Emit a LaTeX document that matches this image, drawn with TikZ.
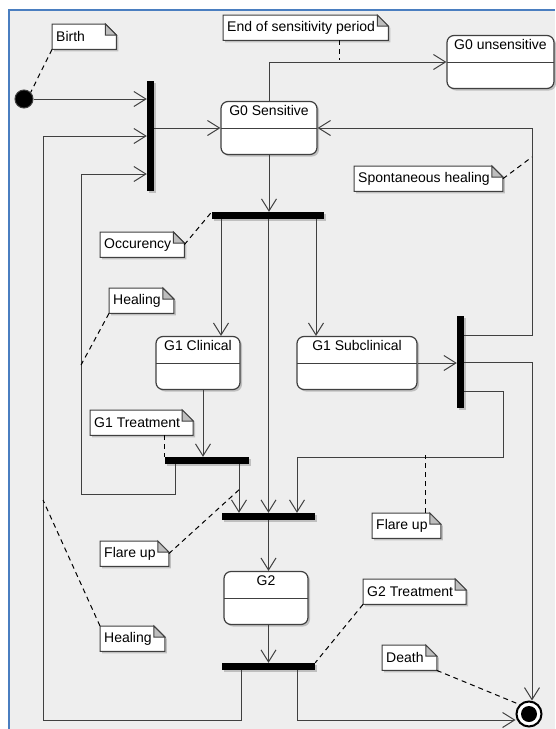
\documentclass[tikz,border=0pt]{standalone}
\usepackage{fontspec}
\setmainfont{Liberation Sans}
\usetikzlibrary{arrows.meta,calc,shadows}
\definecolor{framebg}{RGB}{238,238,238}
\definecolor{frameblue}{RGB}{74,126,192}
\definecolor{linegray}{RGB}{64,64,64}
\definecolor{foldgray}{RGB}{190,190,190}
\newcommand{\diagfont}{\fontsize{14}{16}\selectfont}
\pgfdeclarelayer{frame}
\pgfdeclarelayer{notes}
\pgfsetlayers{frame,notes,main}

\begin{document}
\begin{tikzpicture}[
    x=1pt, y=-1pt,
    statebox/.style={draw=linegray, line width=1.2pt, rounded corners=7pt, fill=white, font=\diagfont,
        text height=10.5pt, text depth=36.5pt, inner ysep=3pt,
        general shadow={shadow xshift=2pt, shadow yshift=-2pt, fill=black!25},
        path picture={\draw[linegray, line width=1pt] (path picture bounding box.west) -- (path picture bounding box.east);}},
    forkbar/.style={fill=black, inner sep=0pt, general shadow={shadow xshift=1.5pt, shadow yshift=-1.5pt, fill=black!25}},
    note/.style={anchor=north west, font=\diagfont, inner xsep=4pt, inner ysep=0pt, minimum height=25pt},
    arrow/.style={draw=linegray, line width=1pt, -{Straight Barb[length=12pt, width=15pt]}},
    noteline/.style={draw=black, line width=1pt, dash pattern=on 5pt off 4pt}
]
\useasboundingbox (0,0) rectangle (555,729);

% ========== FRAME ==========
\begin{pgfonlayer}{frame}
\fill[framebg] (9,10) rectangle (555,729);
\draw[frameblue, line width=2pt] (9,729) -- (9,10) -- (555,10);
\end{pgfonlayer}

% ========== STATES ==========
\node[circle, fill=black, draw=linegray, line width=1pt, minimum size=18pt, inner sep=0pt] (init) at (24,99) {};
\node[statebox, minimum width=96pt] (g0s) at (269,128) {G0 Sensitive};
\node[statebox, minimum width=107pt] (g0u) at (500.5,62) {G0 unsensitive};
\node[statebox, minimum width=84pt] (g1c) at (198,363) {G1 Clinical};
\node[statebox, minimum width=120pt] (g1s) at (357,363) {G1 Subclinical};
\node[statebox, minimum width=84pt] (g2) at (266,598) {G2};
\node[circle, draw=black, line width=2pt, fill=white, minimum size=25pt, inner sep=0pt,
    path picture={\fill[black] (path picture bounding box.center) circle (8pt);}] (final) at (529,714) {};

% ========== FORK / JOIN BARS ==========
\node[forkbar, minimum width=7pt, minimum height=110pt] (bar1) at (150.5,136) {};
\node[forkbar, minimum width=112pt, minimum height=7pt] (bar2) at (268,215.5) {};
\node[forkbar, minimum width=7pt, minimum height=92pt] (bar3) at (460.5,362) {};
\node[forkbar, minimum width=84pt, minimum height=7pt] (bar4) at (207,460.5) {};
\node[forkbar, minimum width=93pt, minimum height=7pt] (bar5) at (268.5,516.5) {};
\node[forkbar, minimum width=93pt, minimum height=7pt] (bar6) at (268.5,666.5) {};

% ========== NOTES ==========
\node[note, text width=47pt] (birth) at (52,24) {Birth};
\node[note] (endsens) at (223,15) {End of sensitivity period};
\node[note] (spont) at (354,166) {Spontaneous healing};
\node[note] (occur) at (100,232) {Occurency};
\node[note] (healU) at (109,288) {Healing};
\node[note] (g1treat) at (90,410) {G1 Treatment};
\node[note] (flareL) at (100,541) {Flare up};
\node[note] (flareR) at (372,513) {Flare up};
\node[note] (healL) at (100,626) {Healing};
\node[note] (g2treat) at (363,579) {G2 Treatment};
\node[note] (death) at (382,645) {Death};

% note bodies with folded corner
\begin{pgfonlayer}{notes}
\foreach \nt in {birth,endsens,spont,occur,healU,g1treat,flareL,flareR,healL,g2treat,death}{
  \fill[black!25] let \p1=(\nt.north west), \p2=(\nt.south east) in
    (\x1+2pt,\y1-2pt) -- (\x2,\y1-2pt) -- (\x2+11pt,\y1-13pt) -- (\x2+11pt,\y2-2pt) -- (\x1+2pt,\y2-2pt) -- cycle;
  \draw[linegray, line width=1pt, fill=white] let \p1=(\nt.north west), \p2=(\nt.south east) in
    (\x1,\y1) -- (\x2-2pt,\y1) -- (\x2+9pt,\y1-11pt) -- (\x2+9pt,\y2) -- (\x1,\y2) -- cycle;
  \draw[linegray, line width=1pt, fill=foldgray] let \p1=(\nt.north west), \p2=(\nt.south east) in
    (\x2-2pt,\y1) -- (\x2-2pt,\y1-11pt) -- (\x2+9pt,\y1-11pt) -- cycle;
}
\end{pgfonlayer}

% ========== HELPER POINTS ==========
\coordinate (colM) at (268.5,0);
\coordinate (colC) at (221,0);
\coordinate (colS) at (316,0);
\coordinate (colT) at (203,0);
\coordinate (colB1) at (175,0);
\coordinate (colF) at (239,0);
\coordinate (colB2) at (241,0);
\coordinate (colD) at (297,0);
\coordinate (spontpt) at (532,335);
\coordinate (flareA) at (503,391);
\coordinate (flareB) at (297,457);
\coordinate (back1) at (81,494);
\coordinate (back2) at (43,720);
\coordinate (sensln) at (339,60);
\coordinate (spontln) at (532,157);
\coordinate (healln1) at (81,365);
\coordinate (flareln1) at (241,488);
\coordinate (flareln2) at (425,455);
\coordinate (healln2) at (43,500);

% ========== TRANSITIONS ==========
\draw[arrow] (init) -- (init -| bar1.west);
\draw[arrow] (bar1.east |- g0s.west) -- (g0s.west);
\draw[arrow] (g0s.north) |- (g0u.west);
\draw[arrow] (g0s.south) -- (g0s.south |- bar2.north);
\draw[arrow] (colC |- bar2.south) -- (colC |- g1c.north);
\draw[arrow] (colS |- bar2.south) -- (colS |- g1s.north);
\draw[arrow] (colM |- bar2.south) -- (colM |- bar5.north);
\draw[arrow] (g1s.east) -- (g1s.east -| bar3.west);
\draw[arrow] (bar3.east |- spontpt) -- (spontpt) |- (g0s.east);
\draw[arrow] (bar3.east) -| ([xshift=3pt]final.north);
\draw[arrow] (bar3.east |- flareA) -- (flareA) |- (flareB) -- (flareB |- bar5.north);
\draw[arrow] (colT |- g1c.south) -- (colT |- bar4.north);
\draw[arrow] (colB1 |- bar4.south) |- (back1) |- ([yshift=-38pt]bar1.west);
\draw[arrow] (colF |- bar4.south) -- (colF |- bar5.north);
\draw[arrow] (colM |- bar5.south) -- (colM |- g2.north);
\draw[arrow] (colM |- g2.south) -- (colM |- bar6.north);
\draw[arrow] (colB2 |- bar6.south) |- (back2) |- (bar1.west);
\draw[arrow] (colD |- bar6.south) |- ([yshift=-6pt]final.west);

% ========== NOTE LINKS ==========
\draw[noteline] (birth.south west) -- (init.north east);
\draw[noteline] (endsens.south -| sensln) -- (sensln);
\draw[noteline] ([xshift=9pt]spont.east) -- (spontln);
\draw[noteline] ([xshift=9pt]occur.east) -- (bar2.north west);
\draw[noteline] (healU.south west) -- (healln1);
\draw[noteline] (g1treat.south -| bar4.north west) -- (bar4.north west);
\draw[noteline] ([xshift=9pt]flareL.east) -- (flareln1);
\draw[noteline] (flareR.north -| flareln2) -- (flareln2);
\draw[noteline] (healL.north west) -- (healln2);
\draw[noteline] (g2treat.south west) -- (bar6.north east);
\draw[noteline] ([xshift=9pt]death.south east) -- (final.north west);

\end{tikzpicture}
\end{document}
